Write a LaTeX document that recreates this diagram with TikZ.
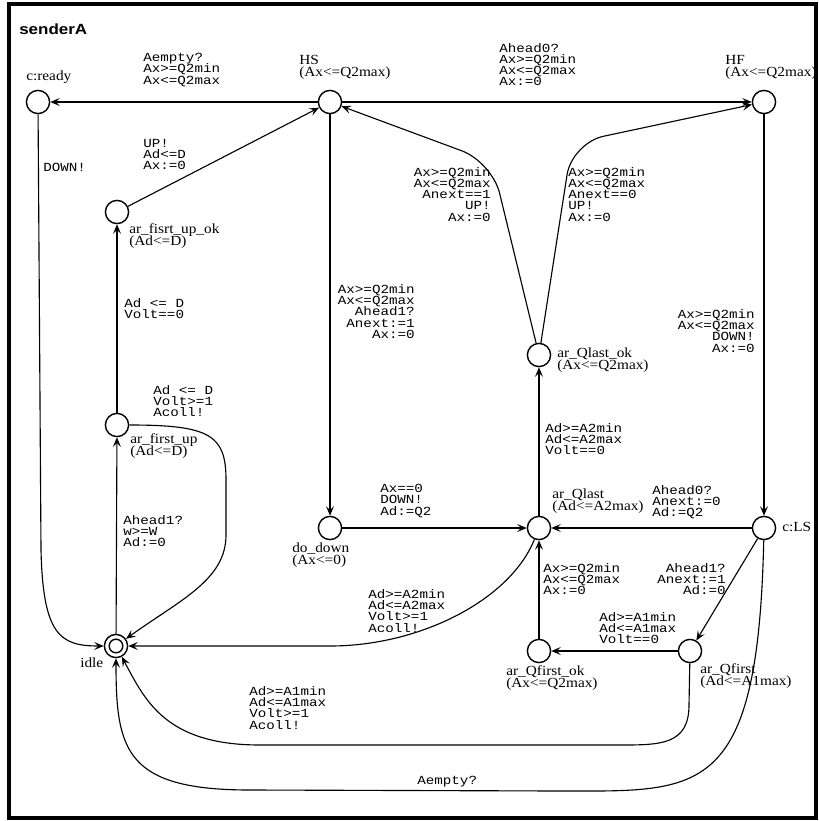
\documentclass[tikz,border=0pt]{standalone}
\usepackage{fontspec}
\setmainfont{Liberation Serif}[FakeStretch=1.1]
\setsansfont{Liberation Sans}[FakeStretch=1.15]
\setmonofont{Liberation Mono}[FakeStretch=1.15]
\usetikzlibrary{arrows.meta}
\setlength{\lineskiplimit}{-20pt}

\begin{document}
\begin{tikzpicture}[x=0.025cm,y=0.025cm,
  loc/.style={draw=black,circle,line width=1pt,minimum size=5.8mm,inner sep=0pt,fill=white},
  nm/.style={anchor=north west,inner sep=0pt,align=left,font=\fontsize{9.9}{8.5}\selectfont},
  gd/.style={anchor=north west,inner sep=0pt,align=left,font=\ttfamily\fontsize{8.8}{8}\selectfont},
  gdr/.style={gd,anchor=north east,align=right},
  tr/.style={-{Stealth[length=2.4mm,width=2mm,inset=1mm]},line width=0.8pt}]
\useasboundingbox (0,0) rectangle (819,-821);
\draw[line width=2.8pt] (9,-4) rectangle (816,-818);
\node[anchor=north west,inner sep=0pt,font=\sffamily\bfseries\fontsize{10.5}{12}\selectfont] (title) at (19,-24) {senderA};
% locations
\node[loc] (cready) at (38,-102) {};
\node[loc] (hs) at (330,-102) {};
\node[loc] (hf) at (764,-102) {};
\node[loc] (fisrtupok) at (117,-212) {};
\node[loc] (firstup) at (117,-425) {};
\node[loc] (idle) at (116,-646) {};
\draw[line width=1pt] (idle) circle[radius=1.7mm];
\node[loc] (dodown) at (330,-528) {};
\node[loc] (qlast) at (539,-528) {};
\node[loc] (qlastok) at (539,-355) {};
\node[loc] (cls) at (764,-528) {};
\node[loc] (qfirstok) at (539,-651) {};
\node[loc] (qfirst) at (690,-651) {};
% location names
\node[nm] (tready) at (26,-71) {c:ready};
\node[nm] (ths) at (299,-55) {HS\\(Ax<=Q2max)};
\node[nm] (thf) at (725,-55) {HF\\(Ax<=Q2max)};
\node[nm] (tfisrtupok) at (129,-223) {ar\_fisrt\_up\_ok\\(Ad<=D)};
\node[nm] (tfirstup) at (130,-433) {ar\_first\_up\\(Ad<=D)};
\node[nm] (tidle) at (80,-658) {idle};
\node[nm] (tdodown) at (292,-543) {do\_down\\(Ax<=0)};
\node[nm] (tqlast) at (552,-489) {ar\_Qlast\\(Ad<=A2max)};
\node[nm] (tqlastok) at (557,-348) {ar\_Qlast\_ok\\(Ax<=Q2max)};
\node[nm] (tcls) at (782,-522) {c:LS};
\node[nm] (tqfirstok) at (506,-665) {ar\_Qfirst\_ok\\(Ax<=Q2max)};
\node[nm] (tqfirst) at (700,-663) {ar\_Qfirst\\(Ad<=A1max)};
% guards, syncs, updates
\node[gd] (g1) at (143,-53) {Aempty?\\Ax>=Q2min\\Ax<=Q2max};
\node[gd] (g2) at (499,-43) {Ahead0?\\Ax>=Q2min\\Ax<=Q2max\\Ax:=0};
\node[gd] (g3) at (43,-163) {DOWN!};
\node[gd] (g4) at (143,-139) {UP!\\Ad<=D\\Ax:=0};
\node[gd] (g5) at (124,-298) {Ad <= D\\Volt==0};
\node[gd] (g6) at (123,-515) {Ahead1?\\w>=W\\Ad:=0};
\node[gd] (g7) at (153,-385) {Ad <= D\\Volt>=1\\Acoll!};
\node[gdr] (g8) at (415,-284) {Ax>=Q2min\\Ax<=Q2max\\Ahead1?\\Anext:=1\\Ax:=0};
\node[gd] (g9) at (380,-484) {Ax==0\\DOWN!\\Ad:=Q2};
\node[gd] (g10) at (545,-423) {Ad>=A2min\\Ad<=A2max\\Volt==0};
\node[gdr] (g11) at (491,-167) {Ax>=Q2min\\Ax<=Q2max\\Anext==1\\UP!\\Ax:=0};
\node[gd] (g12) at (568,-167) {Ax>=Q2min\\Ax<=Q2max\\Anext==0\\UP!\\Ax:=0};
\node[gdr] (g13) at (755,-309) {Ax>=Q2min\\Ax<=Q2max\\DOWN!\\Ax:=0};
\node[gd] (g14) at (652,-485) {Ahead0?\\Anext:=0\\Ad:=Q2};
\node[gdr] (g15) at (726,-563) {Ahead1?\\Anext:=1\\Ad:=0};
\node[gd] (g16) at (599,-612) {Ad>=A1min\\Ad<=A1max\\Volt==0};
\node[gd] (g17) at (543,-563) {Ax>=Q2min\\Ax<=Q2max\\Ax:=0};
\node[gd] (g18) at (368,-589) {Ad>=A2min\\Ad<=A2max\\Volt>=1\\Acoll!};
\node[gd] (g19) at (249,-686) {Ad>=A1min\\Ad<=A1max\\Volt>=1\\Acoll!};
\node[gd] (g20) at (417,-776) {Aempty?};
% transitions
\draw[tr] (hs) -- (cready);
\draw[tr] (hs) -- (hf);
\draw[tr] (cready) -- (41,-550) .. controls (43,-635) and (60,-646) .. (idle);
\draw[tr] (fisrtupok) -- (hs);
\draw[tr] (firstup) -- (fisrtupok);
\draw[tr] (idle) -- (firstup);
\draw[tr] (firstup) .. controls (210,-425) and (226,-435) .. (226,-480) -- (226,-535) .. controls (226,-580) and (180,-600) .. (idle);
\draw[tr] (hs) -- (dodown);
\draw[tr] (dodown) -- (qlast);
\draw[tr] (qlast) -- (qlastok);
\draw[tr,rounded corners=8mm] (qlastok) -- (492,-162) -- (hs);
\draw[tr,rounded corners=8mm] (qlastok) -- (572,-143) -- (hf);
\draw[tr] (hf) -- (cls);
\draw[tr] (cls) -- (qlast);
\draw[tr] (cls) -- (qfirst);
\draw[tr] (qfirst) -- (qfirstok);
\draw[tr] (qfirstok) -- (qlast);
\draw[tr] (qlast) .. controls (510,-600) and (420,-646) .. (330,-646) -- (idle);
\draw[tr] (qfirst) -- (689,-705) .. controls (689,-745) and (660,-745) .. (620,-745) -- (260,-745) .. controls (165,-745) and (145,-700) .. (idle);
\draw[tr] (cls) .. controls (758,-800) and (700,-791) .. (560,-791) -- (250,-790) .. controls (125,-790) and (116,-750) .. (idle);
\end{tikzpicture}
\end{document}
